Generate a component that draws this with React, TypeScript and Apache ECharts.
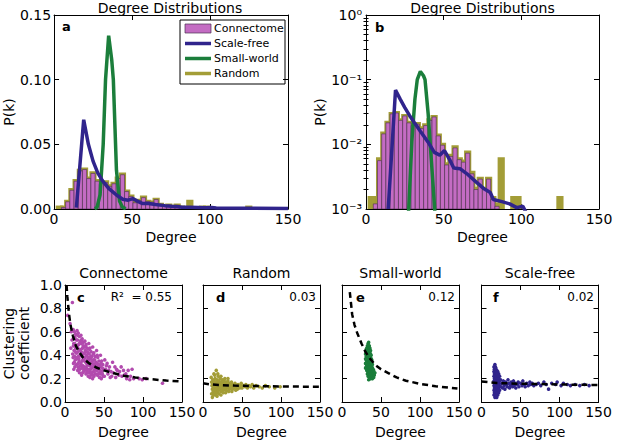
import React, { useEffect, useRef } from "react";
import * as echarts from "echarts";

const FONT = "DejaVu Sans";
const C_MAG = "#B24AAE";
const C_MAG_BAR = "#C46CC3";
const C_OLIVE = "#A39D37";
const C_BLUE = "#30248C";
const C_GREEN = "#1B7E3B";

// ---------- data ----------
const degreeTicks = [0, 50, 100, 150];
const linearPkTicks = [0, 0.05, 0.1, 0.15];
const logPkTicks = [0.001, 0.01, 0.1, 1];
const logPkMinorTicks = [
  0.002, 0.003, 0.004, 0.005, 0.006, 0.007, 0.008, 0.009,
  0.02, 0.03, 0.04, 0.05, 0.06, 0.07, 0.08, 0.09,
  0.2, 0.3, 0.4, 0.5, 0.6, 0.7, 0.8, 0.9,
];
const clusteringTicks = [0, 0.2, 0.4, 0.6, 0.8, 1.0];

const binStart = 2;
const binWidth = 2.7;
// olive "Random" histogram, one value per bin
const randomHist = [
  0.0015, 0.0015, 0.006, 0.015, 0.022, 0.03, 0.031, 0.024, 0.028, 0.022,
  0.02, 0.021, 0.018, 0.02, 0.024, 0.027, 0.014, 0.01, 0.005, 0.0068,
  0.0092, 0.006, 0.0055, 0.0076, 0.0037, 0.0021, 0.003, 0.0021, 0.003, 0.0015,
  0.0012, 0.006, 0, 0, 0.0015, 0.0015, 0, 0, 0, 0,
  0, 0, 0, 0, 0, 0.0015,
];
// magenta "Connectome" histogram
const connectomeHist = [
  0, 0.0012, 0.0056, 0.0145, 0.0215, 0.0295, 0.0305, 0.0235, 0.0275, 0.0215,
  0.0195, 0.0205, 0.0175, 0.0195, 0.0235, 0.0265, 0.0135, 0.0097, 0.0048, 0.0065,
  0.0088, 0.0058, 0.0053, 0.0073, 0.0035, 0.002, 0.0029, 0.002, 0.0029, 0.0014,
  0.0011, 0, 0, 0, 0, 0, 0, 0, 0, 0,
  0, 0, 0, 0, 0, 0,
];
const scaleFreeDist = [
  [14.3, 0.001], [19, 0.069], [22, 0.05], [25, 0.037], [28, 0.028], [31, 0.022],
  [35, 0.016], [40, 0.0108], [44, 0.0075], [47.5, 0.0068], [50.5, 0.008], [54, 0.0057],
  [56.5, 0.0043], [60.5, 0.0042], [65, 0.0035], [71, 0.0026], [75.5, 0.0021], [80, 0.0018],
  [82, 0.0014], [87.5, 0.0013], [92.5, 0.0012], [97, 0.00105], [101, 0.0011], [104, 0.0008],
  [125, 0.0006], [150, 0.0004],
];
const smallWorldDist = [
  [26, 0.0003], [27.5, 0.001], [29.5, 0.011], [31.5, 0.05], [33, 0.1], [35, 0.134],
  [37, 0.115], [38, 0.1], [40, 0.03], [42, 0.006], [44, 0.0012], [46, 0.0002],
];

const connectomeCC = [
  [3.5, 0.74], [9.5, 0.85], [6.5, 0.67], [8, 0.6], [9, 0.53], [7.5, 0.46], [9.8, 0.41],
  [10.5, 0.62], [12, 0.6], [13.5, 0.58], [11, 0.55], [14.5, 0.53], [12.5, 0.5], [10.8, 0.48],
  [13.8, 0.46], [11.6, 0.44], [14.2, 0.42], [12.2, 0.39], [10.4, 0.38], [13.1, 0.36], [11.9, 0.34],
  [14.7, 0.32], [12.7, 0.3], [11.3, 0.28],
  [15.5, 0.61], [17, 0.59], [18.5, 0.56], [16, 0.53], [19.5, 0.52], [17.5, 0.49], [15.8, 0.47],
  [18.8, 0.45], [16.6, 0.43], [19.2, 0.4], [17.2, 0.39], [15.4, 0.37], [18.1, 0.35], [16.9, 0.33],
  [19.7, 0.31], [17.7, 0.29], [16.3, 0.27], [18.6, 0.25],
  [20.5, 0.57], [22, 0.54], [23.5, 0.51], [21, 0.5], [24.5, 0.47], [22.5, 0.46], [20.8, 0.43],
  [23.8, 0.41], [21.6, 0.39], [24.2, 0.37], [22.2, 0.35], [20.4, 0.33], [23.1, 0.31], [21.9, 0.29],
  [24.7, 0.27], [22.7, 0.25], [21.3, 0.23],
  [25.5, 0.52], [27, 0.49], [28.5, 0.46], [26, 0.44], [29.5, 0.42], [27.5, 0.4], [25.8, 0.38],
  [28.8, 0.36], [26.6, 0.34], [29.2, 0.32], [27.2, 0.3], [25.4, 0.28], [28.1, 0.26], [26.9, 0.24],
  [29.7, 0.22],
  [30.5, 0.5], [32, 0.46], [33.5, 0.43], [31, 0.41], [34.5, 0.39], [32.5, 0.37], [30.8, 0.35],
  [33.8, 0.33], [31.6, 0.31], [34.2, 0.29], [32.2, 0.27], [30.4, 0.25], [33.1, 0.23], [31.9, 0.21],
  [35.5, 0.47], [37, 0.42], [38.5, 0.39], [36, 0.36], [39.5, 0.34], [37.5, 0.32], [35.8, 0.3],
  [38.8, 0.28], [36.6, 0.26], [39.2, 0.24], [37.2, 0.22], [35.4, 0.2],
  [40.5, 0.44], [42, 0.38], [43.5, 0.35], [41, 0.33], [44.5, 0.31], [42.5, 0.29], [40.8, 0.27],
  [43.8, 0.25], [41.6, 0.23], [44.2, 0.21],
  [45.5, 0.4], [47, 0.35], [48.5, 0.32], [46, 0.3], [49.5, 0.28], [47.5, 0.26], [45.8, 0.24],
  [48.8, 0.22], [46.6, 0.2],
  [51, 0.36], [54, 0.33], [57, 0.3], [52, 0.28], [59, 0.26], [55, 0.24], [50.5, 0.22], [58, 0.21],
  [61, 0.34], [64, 0.3], [67, 0.27], [62, 0.25], [69, 0.23], [65, 0.21],
  [72, 0.3], [75, 0.27], [78, 0.24], [73, 0.22], [79, 0.2],
  [81, 0.27], [86, 0.28], [84, 0.22], [88, 0.2], [83, 0.19],
  [95, 0.2], [99, 0.19], [104, 0.2], [125, 0.16],
  [12.8, 0.55], [11.2, 0.5], [13.3, 0.43], [10.9, 0.33], [14.9, 0.38], [16.2, 0.57], [18.3, 0.5],
  [15.2, 0.42], [19.9, 0.44], [17.9, 0.37], [16.7, 0.3], [19.1, 0.28], [21.2, 0.53], [23.3, 0.48],
  [20.2, 0.4], [24.9, 0.42], [22.9, 0.36], [21.1, 0.31], [24.1, 0.3], [23.6, 0.26], [26.2, 0.47],
  [28.2, 0.43], [25.2, 0.35], [29.9, 0.38], [27.8, 0.33], [26.3, 0.29], [28.9, 0.28], [29.1, 0.25],
  [31.3, 0.45], [33.2, 0.39], [30.2, 0.38], [34.8, 0.35], [32.8, 0.32], [31.2, 0.28], [34.1, 0.25],
  [36.3, 0.41], [38.1, 0.36], [35.2, 0.33], [39.8, 0.31], [37.8, 0.27], [36.2, 0.23], [41.3, 0.4],
  [43.1, 0.32], [40.2, 0.3], [44.8, 0.27], [42.8, 0.24], [46.3, 0.33], [48.1, 0.29], [47.8, 0.24],
  [53, 0.31], [56, 0.27], [60, 0.22], [66, 0.28], [70, 0.26], [76, 0.23],
];
const connectomeFit = [
  [2, 1.0], [3, 0.9], [5, 0.76], [7, 0.66], [10, 0.57], [14, 0.48], [18, 0.43], [24, 0.37],
  [30, 0.335], [40, 0.295], [50, 0.27], [60, 0.25], [75, 0.225], [90, 0.21], [110, 0.195],
  [130, 0.183], [150, 0.175],
];

const randomCC = [
  [10.5, 0.21], [11, 0.17], [11.5, 0.14], [12, 0.11], [12, 0.04], [12.5, 0.19], [13, 0.16],
  [13, 0.09], [13.5, 0.13], [14, 0.24], [14, 0.18], [14.5, 0.12], [14.5, 0.07], [15, 0.15],
  [15, 0.1], [15.5, 0.2], [16, 0.17], [16, 0.13], [16.5, 0.09], [17, 0.27], [17, 0.15],
  [17.5, 0.11], [18, 0.19], [18, 0.14], [18.5, 0.08], [19, 0.17], [19, 0.12], [19.5, 0.22],
  [20, 0.15], [20, 0.1], [20.5, 0.18], [21, 0.13], [21.5, 0.16], [22, 0.11], [22, 0.2],
  [22.5, 0.14], [23, 0.09], [23.5, 0.17], [24, 0.12], [24.5, 0.15], [25, 0.19], [25, 0.1],
  [26, 0.16], [26.5, 0.13], [27, 0.18], [27.5, 0.11], [28, 0.15], [28.5, 0.14], [29, 0.12],
  [29.5, 0.17], [30, 0.1], [30.5, 0.15], [31, 0.13], [32, 0.18], [32.5, 0.12], [33, 0.16],
  [34, 0.11], [34.5, 0.14], [35, 0.15], [36, 0.12], [36.5, 0.17], [37, 0.13], [38, 0.11],
  [38.5, 0.15], [39, 0.14], [40, 0.12], [41, 0.16], [42, 0.13], [43, 0.14], [44, 0.11],
  [45, 0.15], [46, 0.13], [47, 0.12], [48, 0.14], [49, 0.16], [50, 0.12], [52, 0.14],
  [54, 0.13], [55, 0.15], [57, 0.12], [59, 0.14], [61, 0.13], [63, 0.15], [65, 0.12],
  [68, 0.14], [72, 0.13], [76, 0.12], [80, 0.14], [85, 0.13], [92, 0.12], [99, 0.13],
  [11, 0.07], [13.5, 0.06], [16, 0.06], [18, 0.05], [20.5, 0.07], [23, 0.06], [26, 0.08],
  [29, 0.08], [33, 0.09], [37, 0.09], [42, 0.1], [15, 0.23], [19, 0.24], [23, 0.22],
  [28, 0.2], [32, 0.2],
];
const randomFit = [[0, 0.16], [10, 0.15], [20, 0.145], [40, 0.14], [70, 0.136], [100, 0.133], [150, 0.13]];

const smallWorldCC = [
  [30.2, 0.29], [30.2, 0.33], [30.2, 0.37], [30.2, 0.41],
  [31, 0.3], [31, 0.33], [31, 0.36], [31, 0.39], [31, 0.42], [31, 0.45],
  [31.8, 0.27], [31.8, 0.31], [31.8, 0.35], [31.8, 0.39], [31.8, 0.43], [31.8, 0.46],
  [32.6, 0.24], [32.6, 0.27], [32.6, 0.3], [32.6, 0.33], [32.6, 0.36], [32.6, 0.39], [32.6, 0.42], [32.6, 0.45], [32.6, 0.48],
  [33.4, 0.22], [33.4, 0.25], [33.4, 0.28], [33.4, 0.31], [33.4, 0.34], [33.4, 0.37], [33.4, 0.4], [33.4, 0.43], [33.4, 0.46], [33.4, 0.5],
  [34.2, 0.19], [34.2, 0.23], [34.2, 0.26], [34.2, 0.29], [34.2, 0.32], [34.2, 0.35], [34.2, 0.38], [34.2, 0.41], [34.2, 0.44], [34.2, 0.47], [34.2, 0.51],
  [35, 0.21], [35, 0.24], [35, 0.27], [35, 0.3], [35, 0.33], [35, 0.36], [35, 0.39], [35, 0.42], [35, 0.45], [35, 0.48],
  [35.8, 0.22], [35.8, 0.25], [35.8, 0.28], [35.8, 0.31], [35.8, 0.34], [35.8, 0.37], [35.8, 0.4], [35.8, 0.43], [35.8, 0.46],
  [36.6, 0.2], [36.6, 0.23], [36.6, 0.26], [36.6, 0.29], [36.6, 0.32], [36.6, 0.35], [36.6, 0.38], [36.6, 0.41], [36.6, 0.44],
  [37.4, 0.22], [37.4, 0.25], [37.4, 0.28], [37.4, 0.31], [37.4, 0.34], [37.4, 0.37], [37.4, 0.4],
  [38.2, 0.21], [38.2, 0.24], [38.2, 0.27], [38.2, 0.3], [38.2, 0.33], [38.2, 0.36],
  [39, 0.2], [39, 0.23], [39, 0.26], [39, 0.29], [39, 0.32],
  [39.8, 0.22], [39.8, 0.25], [39.8, 0.28], [40.6, 0.21], [40.6, 0.24], [40.6, 0.27], [41.4, 0.23], [42.2, 0.25],
];
const smallWorldFit = [
  [10, 0.94], [13, 0.75], [16, 0.66], [19.5, 0.59], [25, 0.5], [30, 0.43], [36, 0.37], [43, 0.315],
  [50, 0.28], [60, 0.245], [70, 0.21], [82, 0.182], [100, 0.155], [120, 0.135], [148, 0.115],
];

const scaleFreeCC = [
  [16, 0.06], [16, 0.1], [16, 0.14], [16, 0.18], [16, 0.22], [16, 0.26], [16, 0.3],
  [17.2, 0.04], [17.2, 0.08], [17.2, 0.12], [17.2, 0.16], [17.2, 0.2], [17.2, 0.24], [17.2, 0.28], [17.2, 0.32],
  [18.4, 0.05], [18.4, 0.09], [18.4, 0.13], [18.4, 0.17], [18.4, 0.21], [18.4, 0.25], [18.4, 0.29],
  [19.6, 0.04], [19.6, 0.07], [19.6, 0.11], [19.6, 0.15], [19.6, 0.19], [19.6, 0.23], [19.6, 0.27],
  [20.8, 0.06], [20.8, 0.1], [20.8, 0.14], [20.8, 0.18], [20.8, 0.22], [20.8, 0.26],
  [22, 0.08], [22, 0.12], [22, 0.16], [22, 0.2], [22, 0.24],
  [23.2, 0.1], [23.2, 0.14], [23.2, 0.18], [23.2, 0.22],
  [16.6, 0.08], [16.6, 0.12], [16.6, 0.16], [16.6, 0.2], [16.6, 0.24], [16.6, 0.28],
  [17.8, 0.06], [17.8, 0.1], [17.8, 0.14], [17.8, 0.18], [17.8, 0.22], [17.8, 0.26], [17.8, 0.3],
  [19, 0.05], [19, 0.09], [19, 0.13], [19, 0.17], [19, 0.21], [19, 0.25],
  [20.2, 0.08], [20.2, 0.12], [20.2, 0.16], [20.2, 0.2], [20.2, 0.24],
  [21.4, 0.1], [21.4, 0.14], [21.4, 0.18], [21.4, 0.22],
  [24.5, 0.19], [25, 0.13], [26, 0.16], [27, 0.12], [28, 0.18], [29, 0.14], [30, 0.11], [31, 0.17],
  [32, 0.15], [33, 0.13], [34, 0.19], [35, 0.16], [36, 0.12], [37, 0.14], [38, 0.17], [39, 0.15],
  [40, 0.13], [41, 0.18], [42, 0.14], [43, 0.16], [44, 0.12], [46, 0.15], [47, 0.17], [48, 0.13],
  [50, 0.16], [52, 0.14], [53, 0.18], [55, 0.15], [56, 0.13], [58, 0.16], [60, 0.14], [62, 0.17],
  [63, 0.15], [65, 0.16], [67, 0.14], [70, 0.15], [73, 0.16], [76, 0.14], [80, 0.17], [83, 0.15],
  [86, 0.11], [90, 0.16], [95, 0.15], [97, 0.17], [102, 0.14], [105, 0.16], [110, 0.15], [114, 0.14],
  [120, 0.15], [126, 0.14], [132, 0.15], [138, 0.14],
];
const scaleFreeFit = [[0, 0.175], [20, 0.162], [50, 0.156], [100, 0.15], [150, 0.145]];

const r2Labels = ["R\u00B2  = 0.55", "0.03", "0.12", "0.02"];
const panelLetters = ["a", "b", "c", "d", "e", "f"];
const bottomTitles = ["Connectome", "Random", "Small-world", "Scale-free"];
const legendNames = ["Connectome", "Scale-free", "Small-world", "Random"];

// ---------- layout ----------
const GRIDS = [
  { left: 52, top: 15, width: 236, height: 194 },
  { left: 366, top: 15, width: 233, height: 194 },
  { left: 65, top: 285, width: 117, height: 117 },
  { left: 203, top: 285, width: 117, height: 117 },
  { left: 342, top: 285, width: 117, height: 117 },
  { left: 481.5, top: 285, width: 117, height: 117 },
];

const SUP: Record<string, string> = { "0": "\u2070", "1": "\u00B9", "2": "\u00B2", "3": "\u00B3", "-": "\u207B" };
const supStr = (n: number) => String(n).split("").map((c) => SUP[c] || c).join("");

const axisLine = { show: true, onZero: false, lineStyle: { color: "#000", width: 1 } };
const tick = (len: number, custom?: number[]) => ({
  show: true, inside: true, length: len, lineStyle: { color: "#000", width: 1 },
  ...(custom ? { customValues: custom } : {}),
});
const labelStyle = { color: "#000", fontSize: 14, fontFamily: FONT };

function buildOption() {
  const xAxis: any[] = [];
  const yAxis: any[] = [];
  const series: any[] = [];

  const addX = (g: number, nameGap: number) => {
    const common = { type: "value", gridIndex: g, min: 0, max: 150, interval: 50, splitLine: { show: false }, axisLine };
    xAxis.push({
      ...common, position: "bottom", name: "Degree", nameLocation: "middle", nameGap,
      nameTextStyle: { ...labelStyle }, axisTick: tick(5, degreeTicks),
      axisLabel: { ...labelStyle, margin: 3, customValues: degreeTicks, formatter: (v: number) => String(Math.round(v)) },
    });
    xAxis.push({ ...common, position: "top", axisTick: tick(5, degreeTicks), axisLabel: { show: false } });
    return xAxis.length - 2;
  };
  const addYLinear = (g: number, max: number, interval: number, ticks: number[], digits: number, showLabels: boolean, name?: string, nameGap?: number) => {
    const common = { type: "value", gridIndex: g, min: 0, max, interval, splitLine: { show: false }, axisLine };
    yAxis.push({
      ...common, position: "left",
      ...(name ? { name, nameLocation: "middle", nameGap, nameTextStyle: { ...labelStyle, lineHeight: 15 } } : {}),
      axisTick: tick(5, ticks),
      axisLabel: showLabels ? { ...labelStyle, margin: 3, customValues: ticks, formatter: (v: number) => v.toFixed(digits) } : { show: false },
    });
    yAxis.push({ ...common, position: "right", axisTick: tick(5, ticks), axisLabel: { show: false } });
    return yAxis.length - 2;
  };

  // panel a
  const xa = addX(0, 21);
  const ya = addYLinear(0, 0.15, 0.05, linearPkTicks, 2, true, "P(k)", 36);
  // panel b (log)
  const xb = addX(1, 21);
  const logCommon = { type: "log", logBase: 10, gridIndex: 1, min: 0.001, max: 1, splitLine: { show: false } };
  yAxis.push({
    ...logCommon, position: "left", axisLine, name: "P(k)", nameLocation: "middle", nameGap: 37,
    nameTextStyle: { ...labelStyle }, axisTick: tick(5, logPkTicks),
    axisLabel: { ...labelStyle, margin: 4, customValues: logPkTicks, formatter: (v: number) => "10" + supStr(Math.round(Math.log10(v))) },
  });
  const yb = yAxis.length - 1;
  yAxis.push({ ...logCommon, position: "right", axisLine, axisTick: tick(5, logPkTicks), axisLabel: { show: false } });
  yAxis.push({ ...logCommon, position: "left", axisLine: { show: false }, axisTick: tick(2.5, logPkMinorTicks), axisLabel: { show: false } });
  yAxis.push({ ...logCommon, position: "right", axisLine: { show: false }, axisTick: tick(2.5, logPkMinorTicks), axisLabel: { show: false } });

  const bins = (vals: number[]) =>
    vals.map((v, i) => [binStart + i * binWidth, binStart + (i + 1) * binWidth, v]).filter((d) => d[2] > 0);

  const histSeries = (name: string, vals: number[], xi: number, yi: number, base: number, fill: string, stroke: string, lw: number, z: number) => ({
    type: "custom", name, xAxisIndex: xi, yAxisIndex: yi, z, clip: true,
    encode: { x: [0, 1], y: 2 },
    data: bins(vals),
    renderItem: (params: any, api: any) => {
      const p0 = api.coord([api.value(0), api.value(2)]);
      const p1 = api.coord([api.value(1), base]);
      return {
        type: "rect",
        shape: { x: p0[0], y: p0[1], width: p1[0] - p0[0], height: p1[1] - p0[1] },
        style: { fill, stroke, lineWidth: lw },
      };
    },
  });
  const lineSeries = (name: string, data: number[][], xi: number, yi: number, color: string, z: number) => ({
    type: "line", name, xAxisIndex: xi, yAxisIndex: yi, data, z, clip: true,
    symbol: "none", showSymbol: false, lineStyle: { color, width: 3.5 }, itemStyle: { color },
  });

  // panel a series
  series.push(histSeries("Random", randomHist, xa, ya, 0, C_OLIVE, C_OLIVE, 3, 1));
  series.push(histSeries("Connectome", connectomeHist, xa, ya, 0, C_MAG_BAR, "#4a3050", 0.6, 2));
  series.push(lineSeries("Scale-free", scaleFreeDist, xa, ya, C_BLUE, 4));
  series.push(lineSeries("Small-world", smallWorldDist, xa, ya, C_GREEN, 3));
  // panel b series
  series.push(histSeries("Random", randomHist, xb, yb, 0.001, C_OLIVE, C_OLIVE, 3, 1));
  series.push(histSeries("Connectome", connectomeHist, xb, yb, 0.001, C_MAG_BAR, "#4a3050", 0.6, 2));
  series.push(lineSeries("Scale-free", scaleFreeDist, xb, yb, C_BLUE, 4));
  series.push(lineSeries("Small-world", smallWorldDist, xb, yb, C_GREEN, 3));

  // bottom panels
  const scatterSets = [
    { pts: connectomeCC, fit: connectomeFit, color: C_MAG },
    { pts: randomCC, fit: randomFit, color: C_OLIVE },
    { pts: smallWorldCC, fit: smallWorldFit, color: C_GREEN },
    { pts: scaleFreeCC, fit: scaleFreeFit, color: C_BLUE },
  ];
  scatterSets.forEach((s, k) => {
    const g = 2 + k;
    const xi = addX(g, 23);
    const yi = addYLinear(g, 1.0, 0.2, clusteringTicks, 1, k === 0, k === 0 ? "Clustering\ncoefficient" : undefined, 34);
    series.push({
      type: "scatter", name: bottomTitles[k], xAxisIndex: xi, yAxisIndex: yi, data: s.pts,
      symbolSize: 3.6, itemStyle: { color: s.color, opacity: 1 }, z: 2,
    });
    series.push({
      type: "line", name: bottomTitles[k] + " fit", xAxisIndex: xi, yAxisIndex: yi, data: s.fit,
      symbol: "none", showSymbol: false, smooth: false, clip: true,
      lineStyle: { color: "#000", width: 2.5, type: [6, 4] }, z: 3,
    });
  });

  const titles: any[] = [
    { text: "Degree Distributions", left: GRIDS[0].left + GRIDS[0].width / 2, top: 1, textAlign: "center" },
    { text: "Degree Distributions", left: GRIDS[1].left + GRIDS[1].width / 2, top: 1, textAlign: "center" },
    ...bottomTitles.map((t, k) => ({ text: t, left: GRIDS[2 + k].left + GRIDS[2 + k].width / 2, top: 266, textAlign: "center" })),
  ].map((t) => ({ ...t, padding: 0, textStyle: { fontSize: 14, fontWeight: "normal", color: "#000", fontFamily: FONT } }));

  // legend + panel annotations
  const legendColors = [C_MAG_BAR, C_BLUE, C_GREEN, C_OLIVE];
  const legendChildren: any[] = [
    { type: "rect", shape: { x: 180, y: 20, width: 105, height: 64 }, style: { fill: "#fff", stroke: "#000", lineWidth: 1 } },
  ];
  legendNames.forEach((n, i) => {
    const cy = 28.5 + i * 15;
    if (i === 0) {
      legendChildren.push({ type: "rect", shape: { x: 185, y: cy - 4.5, width: 26, height: 9 }, style: { fill: legendColors[i], stroke: "#4a3050", lineWidth: 0.7 } });
    } else {
      legendChildren.push({ type: "line", shape: { x1: 185, y1: cy, x2: 211, y2: cy }, style: { stroke: legendColors[i], lineWidth: 3.5 } });
    }
    legendChildren.push({ type: "text", x: 214, y: cy, style: { text: n, fontSize: 11, fontFamily: FONT, fill: "#000", textVerticalAlign: "middle" } });
  });
  const letterPos = [[62, 26], [375, 27], [77, 297], [216, 297], [356, 297], [493, 297]];
  const letters = panelLetters.map((l, i) => ({
    type: "text", x: letterPos[i][0], y: letterPos[i][1],
    style: { text: l, fontSize: 13, fontWeight: "bold", fontFamily: FONT, fill: "#000", textVerticalAlign: "middle" },
  }));
  const r2Right = [172, 316, 455, 594];
  const r2 = r2Labels.map((t, k) => ({
    type: "text", x: r2Right[k], y: 297,
    style: { text: t, fontSize: 12, fontFamily: FONT, fill: "#000", textAlign: "right", textVerticalAlign: "middle" },
  }));

  return {
    animation: false,
    backgroundColor: "#fff",
    textStyle: { fontFamily: FONT },
    title: titles,
    grid: GRIDS.map((g) => ({ ...g, containLabel: false })),
    xAxis, yAxis, series,
    graphic: [{ type: "group", z: 100, children: [...legendChildren, ...letters, ...r2] }],
  };
}

export default function App() {
  const ref = useRef<HTMLDivElement>(null);
  useEffect(() => {
    if (!ref.current) return;
    const chart = echarts.init(ref.current, undefined, { renderer: "svg" });
    chart.setOption(buildOption() as any);
    return () => chart.dispose();
  }, []);
  return <div ref={ref} style={{ position: "fixed", left: 0, top: 0, width: 617, height: 440, background: "#fff" }} />;
}
